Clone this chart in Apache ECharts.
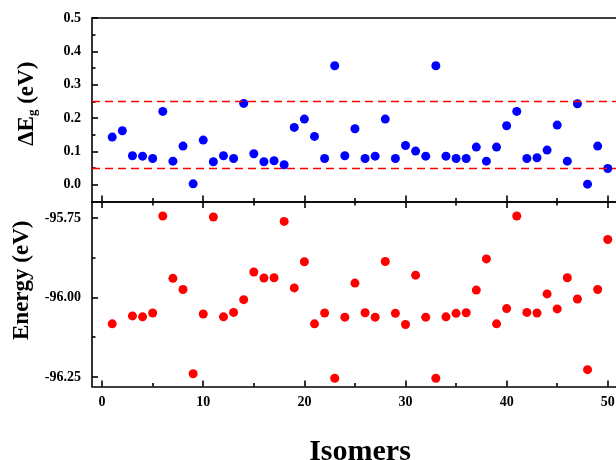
<!DOCTYPE html>
<html>
<head>
<meta charset="utf-8">
<script src="https://cdn.jsdelivr.net/npm/echarts@6/dist/echarts.min.js"></script>
<style>
  html, body { margin: 0; padding: 0; background: #fff; }
  #chart { width: 616px; height: 460px; }
</style>
</head>
<body>
<div id="chart"></div>
<script>
// Isomer index for each computed structure
const isomers = [1,2,3,4,5,6,7,8,9,10,11,12,13,14,15,16,17,18,19,20,21,22,23,24,25,
  26,27,28,29,30,31,32,33,34,35,36,37,38,39,40,41,42,43,44,45,46,47,48,49,50];

// HOMO-LUMO gap difference, eV
const gapDiff = [0.143,0.162,0.087,0.086,0.079,0.220,0.071,0.116,0.003,0.134,
  0.069,0.087,0.079,0.244,0.093,0.069,0.072,0.060,0.172,0.197,
  0.145,0.079,0.357,0.087,0.168,0.079,0.086,0.197,0.079,0.118,
  0.101,0.086,0.357,0.086,0.079,0.079,0.113,0.071,0.113,0.177,
  0.220,0.079,0.081,0.104,0.179,0.071,0.243,0.002,0.116,0.049];

// Total energy, eV (isomer 2 not reported)
const energy = [-96.083,null,-96.058,-96.061,-96.049,-95.744,-95.940,-95.975,-96.240,-96.052,
  -95.747,-96.061,-96.047,-96.007,-95.920,-95.939,-95.938,-95.761,-95.970,-95.888,
  -96.083,-96.049,-96.254,-96.062,-95.955,-96.048,-96.062,-95.887,-96.050,-96.085,
  -95.930,-96.062,-96.254,-96.061,-96.050,-96.048,-95.977,-95.879,-96.083,-96.035,
  -95.744,-96.047,-96.049,-95.989,-96.036,-95.938,-96.005,-96.227,-95.975,-95.818];

// Reference levels drawn as dashed lines in the gap panel
const gapLevels = [0.25, 0.05];

// Tick positions
const xMajor = [0,10,20,30,40,50];
const xMinor = [5,15,25,35,45];
const gapMajor = [0,0.1,0.2,0.3,0.4,0.5];
const gapMinor = [0.05,0.15,0.25,0.35,0.45];
const energyMajor = [-96.25,-96.00,-95.75];
const energyMinor = [-96.125,-95.875];

const FONT = '"Liberation Serif", "Times New Roman", serif';
const lineStyle = { color: '#000', width: 1.6 };

function xAx(grid, pos, ticks, len, opts) {
  return Object.assign({
    type: 'value', gridIndex: grid, position: pos, min: -1, max: 52,
    axisLine: { show: false, onZero: false, lineStyle: lineStyle },
    axisTick: { show: !!ticks, inside: true, length: len, customValues: ticks || [], lineStyle: lineStyle },
    axisLabel: { show: false },
    splitLine: { show: false }
  }, opts || {});
}
function yAx(grid, min, max, ticks, len, opts) {
  return Object.assign({
    type: 'value', gridIndex: grid, position: 'left', min: min, max: max,
    axisLine: { show: false, onZero: false, lineStyle: lineStyle },
    axisTick: { show: true, inside: true, length: len, customValues: ticks, lineStyle: lineStyle },
    axisLabel: { show: false },
    splitLine: { show: false }
  }, opts || {});
}

const chart = echarts.init(document.getElementById('chart'), null, { renderer: 'canvas' });

chart.setOption({
  animation: false,
  backgroundColor: '#fff',
  grid: [
    { left: 92, top: 18, width: 536, height: 183.5, outerBoundsMode: 'none', containLabel: false },
    { left: 92, top: 202, width: 536, height: 184.5, outerBoundsMode: 'none', containLabel: false }
  ],
  xAxis: [
    // gap panel
    xAx(0, 'bottom', xMajor, 6, { axisLine: { show: true, onZero: false, lineStyle: lineStyle } }),
    xAx(0, 'bottom', xMinor, 3.5),
    xAx(0, 'top', null, 0, { axisLine: { show: true, onZero: false, lineStyle: lineStyle } }),
    // energy panel
    xAx(1, 'bottom', xMajor, 6, {
      axisLine: { show: true, onZero: false, lineStyle: lineStyle },
      axisLabel: {
        show: true, customValues: xMajor, margin: 9,
        fontFamily: FONT, fontWeight: 'bold', fontSize: 14, color: '#000'
      },
      name: 'Isomers', nameLocation: 'middle', nameGap: 51,
      nameTextStyle: { fontFamily: FONT, fontWeight: 'bold', fontSize: 30, color: '#000' }
    }),
    xAx(1, 'bottom', xMinor, 3.5),
    xAx(1, 'top', xMajor, 6, { axisLine: { show: true, onZero: false, lineStyle: lineStyle } }),
    xAx(1, 'top', xMinor, 3.5)
  ],
  yAxis: [
    yAx(0, -0.05, 0.5, gapMajor, 6, {
      axisLine: { show: true, onZero: false, lineStyle: lineStyle },
      axisLabel: {
        show: true, customValues: gapMajor, margin: 11,
        formatter: v => v.toFixed(1),
        fontFamily: FONT, fontWeight: 'bold', fontSize: 14, color: '#000'
      },
      name: '{a|ΔE}{s|g}{a| (eV)}', nameLocation: 'middle', nameGap: 53, nameRotate: 90,
      nameTextStyle: {
        padding: [0, 0, 0, 12],
        rich: {
          a: { fontFamily: FONT, fontWeight: 'bold', fontSize: 23, color: '#000' },
          s: { fontFamily: FONT, fontWeight: 'bold', fontSize: 13, color: '#000', padding: [10, 0, 0, 0] }
        }
      }
    }),
    yAx(0, -0.05, 0.5, gapMinor, 3.5),
    yAx(1, -96.28, -95.70, energyMajor, 6, {
      axisLine: { show: true, onZero: false, lineStyle: lineStyle },
      axisLabel: {
        show: true, customValues: energyMajor, margin: 11,
        formatter: v => v.toFixed(2),
        fontFamily: FONT, fontWeight: 'bold', fontSize: 14, color: '#000'
      },
      name: 'Energy (eV)', nameLocation: 'middle', nameGap: 52, nameRotate: 90,
      nameTextStyle: { fontFamily: FONT, fontWeight: 'bold', fontSize: 23, color: '#000', padding: [0, 0, 0, 28] }
    }),
    yAx(1, -96.28, -95.70, energyMinor, 3.5)
  ],
  series: [
    {
      type: 'scatter', xAxisIndex: 0, yAxisIndex: 0,
      symbolSize: 9, itemStyle: { color: '#0000ff', opacity: 1 },
      data: isomers.map((n, i) => [n, gapDiff[i]]),
      markLine: {
        silent: true, symbol: 'none', label: { show: false },
        lineStyle: { color: '#ff0000', type: [8, 5], width: 1.4 },
        data: gapLevels.map(v => ({ yAxis: v }))
      }
    },
    {
      type: 'scatter', xAxisIndex: 3, yAxisIndex: 2,
      symbolSize: 9, itemStyle: { color: '#ff0000', opacity: 1 },
      data: isomers.map((n, i) => [n, energy[i]]).filter(p => p[1] !== null)
    }
  ]
});
</script>
</body>
</html>
